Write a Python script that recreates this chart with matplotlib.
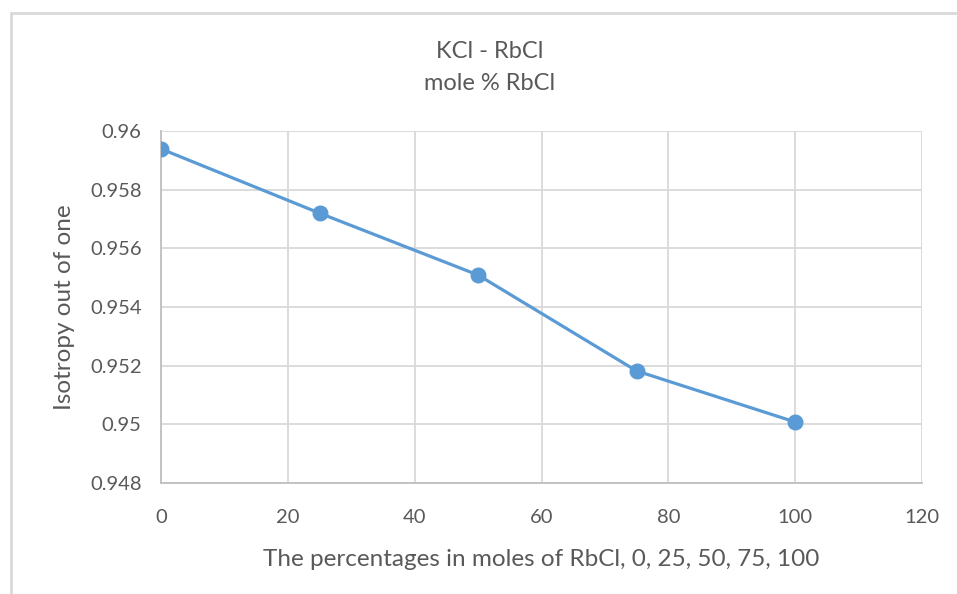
import matplotlib.pyplot as plt
from matplotlib.patches import Rectangle

# data
mole_pct = [0, 25, 50, 75, 100]
isotropy = [0.95939, 0.95720, 0.95509, 0.95182, 0.95008]
x_ticks = [0, 20, 40, 60, 80, 100, 120]
y_ticks = [0.948, 0.95, 0.952, 0.954, 0.956, 0.958, 0.96]
y_tick_labels = ['0.948', '0.95', '0.952', '0.954', '0.956', '0.958', '0.96']

text_col = '#595959'
grid_col = '#D9D9D9'
line_col = '#5B9BD5'

plt.rcParams['font.family'] = ['Lato', 'DejaVu Sans']

fig = plt.figure(figsize=(9.57, 5.94), dpi=100)

# chart frame from the document (runs off the right and bottom edge)
fig.patches.append(Rectangle((11 / 957, -0.1), 1.2, (594 - 13) / 594 + 0.1,
                             transform=fig.transFigure, fill=False,
                             edgecolor='#D9D9D9', linewidth=2))

ax = fig.add_axes([161 / 957, 111 / 594, 761 / 957, 352 / 594])
ax.plot(mole_pct, isotropy, color=line_col, linewidth=2.3, marker='o',
        markersize=10.5, zorder=3)

ax.set_xlim(0, 120)
ax.set_ylim(0.948, 0.96)
ax.set_xticks(x_ticks)
ax.set_yticks(y_ticks)
ax.set_yticklabels(y_tick_labels)
ax.grid(True, color=grid_col, linewidth=1.3)
ax.set_axisbelow(True)
for s in ['top', 'right']:
    ax.spines[s].set_visible(False)
for s in ['left', 'bottom']:
    ax.spines[s].set_color('#BFBFBF')
    ax.spines[s].set_linewidth(1.3)
ax.tick_params(length=0, labelsize=14.5, labelcolor=text_col)
ax.tick_params(axis='x', pad=19)
ax.tick_params(axis='y', pad=14)

ax.set_xlabel('The percentages in moles of RbCl, 0, 25, 50, 75, 100',
              fontsize=17.5, color=text_col, labelpad=16)
ax.set_ylabel('Isotropy out of one', fontsize=17.5, color=text_col, labelpad=11)

fig.text(490 / 957, 1 - 51 / 594, 'KCl - RbCl', ha='center', va='center',
         fontsize=17, color=text_col)
fig.text(490 / 957, 1 - 83 / 594, 'mole % RbCl', ha='center', va='center',
         fontsize=17, color=text_col)

plt.savefig('out.png', dpi=100)
